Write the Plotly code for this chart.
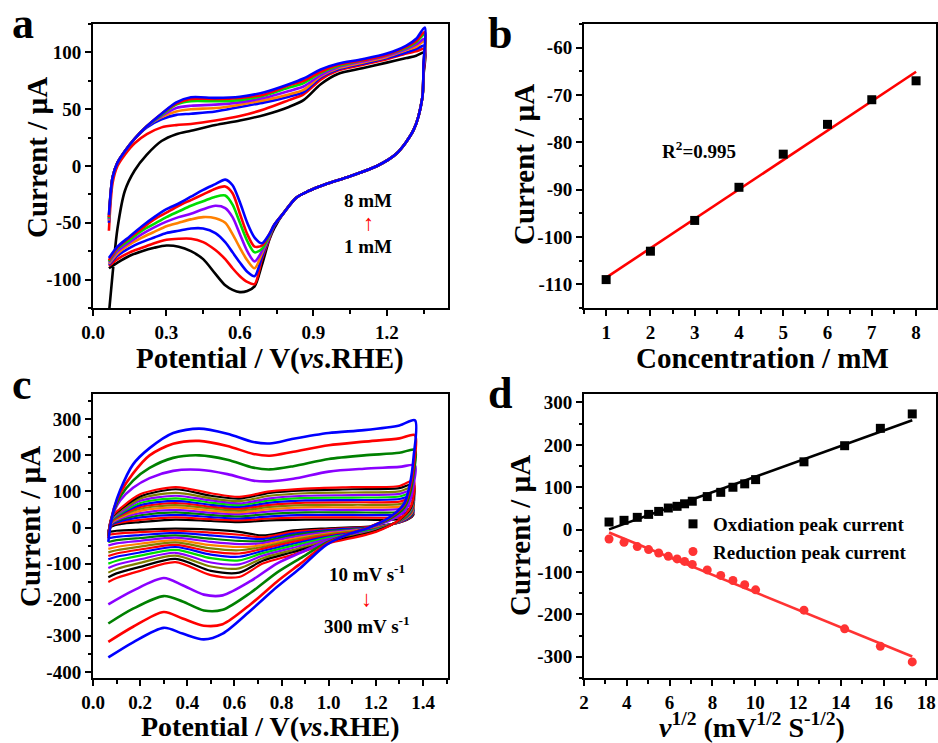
import numpy as np
import plotly.graph_objects as go

FONT = "Liberation Serif, Times New Roman, serif"

# ---------------- Panel a : CVs at 1-8 mM ----------------
A_LABELS = ["1 mM", "2 mM", "3 mM", "4 mM", "5 mM", "6 mM", "7 mM", "8 mM"]
A_COLORS = ["#000000", "#ff0000", "#0000ff", "#ff8000", "#8a00ff", "#00dd00", "#ff0000", "#0000ff"]
A_X_AN = [0.065, 0.08, 0.1, 0.13, 0.17, 0.22, 0.28, 0.34, 0.4, 0.5, 0.6, 0.7, 0.8, 0.86, 0.93, 1.0, 1.1, 1.2, 1.28, 1.32, 1.355]
A_X_CA = [1.355, 1.35, 1.345, 1.31, 1.24, 1.16, 1.05, 0.95, 0.88, 0.83, 0.78, 0.74, 0.72, 0.69, 0.66, 0.63, 0.6, 0.57, 0.54, 0.5, 0.45, 0.4, 0.35, 0.3, 0.25, 0.2, 0.15, 0.1, 0.065]
A_Y_AN = [
    [-130, -95, -55, -22, -4, 10, 22, 28, 31, 36, 40, 45, 52, 58, 72, 81, 86, 91, 95, 97, 100],
    [-57, -15, 0, 10, 20, 28, 34, 36, 37, 40, 44, 50, 58, 63, 76, 84, 89, 94, 99, 101, 103],
    [-50, -10, 3, 13, 24, 34, 41, 45, 46, 48, 52, 56, 61, 65, 78, 85, 90, 95, 100, 103, 106],
    [-48, -10, 3, 13, 24, 35, 43, 48, 50, 51, 54, 58, 63, 67, 79, 86, 91, 96, 102, 105, 110],
    [-47, -10, 3, 13, 24, 35, 44, 51, 53, 54, 56, 60, 66, 70, 80, 87, 92, 97, 103, 107, 112],
    [-46, -10, 3, 13, 24, 35, 45, 54, 57, 57, 58, 62, 69, 73, 82, 88, 93, 98, 104, 109, 116],
    [-45, -10, 3, 13, 24, 35, 46, 55, 59, 59, 60, 63, 71, 75, 83, 89, 93, 98, 105, 110, 118],
    [-43, -10, 3, 13, 24, 35, 46, 56, 60.5, 60, 61, 65, 72, 77, 85, 90, 94, 99, 106, 112, 122],
]
A_Y_CA = [
    [100, 80, 60, 32, 11, 0, -9, -16, -22, -28, -41, -55, -65, -87, -106, -110, -111, -109, -105, -95, -82, -75, -71, -70, -72, -75, -79, -85, -90],
    [103, 82, 60, 32, 11, 0, -9, -16, -22, -28, -41, -53, -64, -82, -104, -102, -97, -90, -82, -74, -67, -64, -64, -65, -68, -72, -76, -82, -88],
    [106, 84, 60, 32, 11, 0, -9, -16, -22, -28, -41, -53, -63, -80, -97, -93, -85, -76, -67, -59, -55, -55, -57, -59, -63, -67, -72, -79, -87],
    [110, 86, 60, 32, 11, 0, -9, -16, -22, -28, -41, -52, -62, -77, -90, -83, -72, -60, -50, -46, -45, -47, -50, -53, -58, -63, -69, -77, -86],
    [112, 87, 60, 32, 11, 0, -9, -16, -22, -28, -41, -52, -61, -75, -84, -75, -60, -45, -37, -35, -38, -42, -45, -49, -54, -60, -67, -75, -85],
    [116, 88, 60, 32, 11, 0, -9, -16, -22, -28, -41, -52, -61, -73, -76, -66, -50, -34, -26, -27, -31, -35, -40, -45, -51, -57, -65, -73, -84],
    [118, 89, 60, 32, 11, 0, -9, -16, -22, -28, -41, -52, -60, -70, -71, -60, -42, -24, -18, -20, -25, -30, -35, -41, -47, -55, -63, -72, -83],
    [122, 90, 60, 32, 11, 0, -9, -16, -22, -28, -41, -52, -60, -68, -63, -50, -32, -17, -12, -16, -21, -27, -33, -38, -45, -53, -62, -71, -81],
]
A_XTICKS = [0.0, 0.3, 0.6, 0.9, 1.2]
A_XTEXT = ["0.0", "0.3", "0.6", "0.9", "1.2"]
A_YTICKS = [-100, -50, 0, 50, 100]
A_YTEXT = ["-100", "-50", "0", "50", "100"]

# ---------------- Panel b : calibration ----------------
B_CONC = [1, 2, 3, 4, 5, 6, 7, 8]
B_CURRENT = [-109, -103, -96.5, -89.5, -82.5, -76.2, -71, -67]
B_XTICKS = [1, 2, 3, 4, 5, 6, 7, 8]
B_XTEXT = ["1", "2", "3", "4", "5", "6", "7", "8"]
B_YTICKS = [-110, -100, -90, -80, -70, -60]
B_YTEXT = ["-110", "-100", "-90", "-80", "-70", "-60"]

# ---------------- Panel c : CVs at scan rates ----------------
C_RATES = [10, 15, 20, 25, 30, 35, 40, 45, 50, 60, 70, 80, 90, 100, 150, 200, 250, 300]
C_COLORS = ["#000000", "#ff0000", "#0000ff", "#008000", "#8a00ff", "#ff8000", "#808000", "#ff0000", "#0000ff",
            "#00dd00", "#8a00ff", "#808000", "#000000", "#ff0000", "#8a00ff", "#008000", "#ff0000", "#0000ff"]
C_X_AN_S = [0.065, 0.08, 0.12, 0.2, 0.35, 0.5, 0.62, 0.75, 0.9, 1.1, 1.3, 1.36]
C_X_CA_S = [1.36, 1.35, 1.3, 1.2, 1.0, 0.85, 0.72, 0.62, 0.5, 0.35, 0.2, 0.1, 0.065]
C_Y_AN_S = [
    [-12, 3, 10, 15, 22, 18, 15, 20, 22, 22, 23, 37],
    [-13, 6, 14, 21, 28, 23, 20, 25, 28, 28, 29, 42],
    [-14, 8, 18, 28, 35, 29, 25, 31, 35, 35, 36, 48],
    [-14, 10, 22, 34, 42, 35, 31, 38, 42, 42, 43, 55],
    [-15, 12, 26, 40, 49, 41, 37, 45, 49, 49, 51, 62],
    [-15, 14, 29, 46, 56, 47, 42, 51, 56, 56, 58, 68],
    [-16, 16, 32, 52, 62, 53, 47, 57, 62, 63, 65, 75],
    [-16, 18, 35, 57, 68, 58, 52, 63, 69, 70, 72, 82],
    [-17, 20, 38, 62, 74, 63, 57, 69, 75, 76, 79, 88],
    [-17, 22, 41, 68, 81, 69, 62, 75, 82, 83, 86, 96],
    [-18, 24, 44, 74, 88, 75, 67, 81, 88, 90, 93, 104],
    [-18, 26, 48, 80, 96, 81, 73, 88, 95, 97, 100, 112],
    [-19, 28, 52, 86, 106, 88, 80, 96, 103, 106, 109, 120],
    [-20, 30, 55, 92, 112, 95, 85, 100, 108, 112, 115, 130],
]
C_Y_CA_S = [
    [37, 28, 14, 4, -2, -8, -22, -12, -6, -3, -6, -9, -12],
    [42, 30, 14, 3, -5, -12, -27, -20, -14, -9, -13, -17, -20],
    [48, 32, 15, 2, -7, -17, -32, -28, -22, -15, -21, -26, -30],
    [55, 34, 16, 1, -10, -21, -38, -37, -31, -22, -29, -35, -40],
    [62, 37, 16, 0, -13, -26, -43, -46, -40, -28, -37, -44, -50],
    [68, 39, 17, -1, -16, -31, -49, -54, -49, -35, -45, -54, -59],
    [75, 41, 17, -2, -19, -35, -54, -63, -58, -41, -53, -63, -69],
    [82, 43, 18, -4, -22, -40, -59, -72, -67, -48, -61, -72, -79],
    [88, 46, 18, -5, -25, -45, -65, -81, -75, -54, -69, -81, -88],
    [96, 48, 19, -6, -28, -50, -71, -91, -85, -62, -78, -92, -100],
    [104, 51, 20, -8, -32, -56, -78, -102, -97, -70, -88, -103, -112],
    [112, 54, 20, -9, -36, -62, -85, -113, -108, -78, -98, -115, -125],
    [120, 57, 21, -10, -40, -68, -92, -125, -120, -87, -109, -127, -138],
    [130, 60, 22, -12, -44, -75, -100, -137, -132, -96, -120, -140, -151],
]
C_X_AN_L = [0.065, 0.075, 0.09, 0.115, 0.17, 0.24, 0.34, 0.45, 0.57, 0.68, 0.75, 0.85, 1.0, 1.15, 1.3, 1.366]
C_X_CA_L = [1.366, 1.36, 1.345, 1.32, 1.26, 1.16, 1.09, 0.99, 0.88, 0.78, 0.67, 0.55, 0.47, 0.38, 0.3, 0.17, 0.065]
C_Y_AN_L = [
    [-20, 15, 45, 75, 110, 137, 157, 160, 148, 130, 128, 135, 155, 163, 168, 172],
    [-25, 15, 50, 85, 130, 165, 193, 200, 188, 166, 161, 170, 190, 200, 207, 215],
    [-30, 15, 55, 95, 150, 200, 232, 240, 226, 204, 199, 210, 228, 238, 247, 256],
    [-40, 10, 55, 103, 175, 220, 262, 274, 260, 237, 233, 246, 262, 270, 283, 297],
]
C_Y_CA_L = [
    [172, 120, 75, 45, 20, -3, -17, -38, -70, -100, -148, -188, -186, -160, -140, -175, -213],
    [215, 150, 95, 55, 25, -2, -17, -42, -85, -125, -180, -228, -230, -205, -190, -225, -266],
    [256, 170, 110, 62, 28, -2, -17, -45, -100, -150, -212, -268, -272, -252, -234, -275, -317],
    [297, 195, 122, 66, 29, -3, -17, -48, -112, -165, -229, -294, -310, -294, -278, -318, -360],
]
C_XTICKS = [0.0, 0.2, 0.4, 0.6, 0.8, 1.0, 1.2, 1.4]
C_XTEXT = ["0.0", "0.2", "0.4", "0.6", "0.8", "1.0", "1.2", "1.4"]
C_YTICKS = [-400, -300, -200, -100, 0, 100, 200, 300]
C_YTEXT = ["-400", "-300", "-200", "-100", "0", "100", "200", "300"]

# ---------------- Panel d : peak current vs v^1/2 ----------------
D_SQRT_V = [3.17, 3.87, 4.49, 5.02, 5.49, 5.94, 6.35, 6.70, 7.06, 7.76, 8.39, 8.96, 9.51, 10.02, 12.28, 14.18, 15.85, 17.34]
D_OX = [18, 22, 29, 36, 43, 51, 55, 61, 67, 78, 88, 100, 108, 118, 160, 198, 239, 273]
D_RED = [-22, -30, -40, -47, -55, -63, -69, -75, -82, -95, -108, -120, -130, -142, -190, -234, -275, -312]
D_XTICKS = [2, 4, 6, 8, 10, 12, 14, 16, 18]
D_XTEXT = ["2", "4", "6", "8", "10", "12", "14", "16", "18"]
D_YTICKS = [-300, -200, -100, 0, 100, 200, 300]
D_YTEXT = ["-300", "-200", "-100", "0", "100", "200", "300"]

W, H = 938, 743


def px(x):
    return x / W


def py(y):
    return 1 - y / H


fig = go.Figure()

# panel a
for i in range(len(A_LABELS)):
    xs = A_X_AN + A_X_CA[1:]
    ys = A_Y_AN[i] + A_Y_CA[i][1:]
    fig.add_trace(go.Scatter(x=xs, y=ys, mode="lines", xaxis="x", yaxis="y",
                             line=dict(color=A_COLORS[i], width=2.6, shape="spline", smoothing=0.8),
                             showlegend=False, name=A_LABELS[i]))

# panel b
bfit = np.polyfit(B_CONC, B_CURRENT, 1)
bx = [B_CONC[0], B_CONC[-1]]
fig.add_trace(go.Scatter(x=bx, y=list(np.polyval(bfit, bx)), mode="lines", xaxis="x2", yaxis="y2",
                         line=dict(color="#ff0000", width=2.6), showlegend=False))
fig.add_trace(go.Scatter(x=B_CONC, y=B_CURRENT, mode="markers", xaxis="x2", yaxis="y2",
                         marker=dict(symbol="square", size=9, color="black"), showlegend=False))

# panel c
n_small = len(C_Y_AN_S)
for i in range(len(C_RATES)):
    if i < n_small:
        xs = C_X_AN_S + C_X_CA_S[1:]
        ys = C_Y_AN_S[i] + C_Y_CA_S[i][1:]
        w = 2.2
    else:
        j = i - n_small
        xs = C_X_AN_L + C_X_CA_L[1:]
        ys = C_Y_AN_L[j] + C_Y_CA_L[j][1:]
        w = 2.6
    fig.add_trace(go.Scatter(x=xs, y=ys, mode="lines", xaxis="x3", yaxis="y3",
                             line=dict(color=C_COLORS[i], width=w, shape="spline", smoothing=0.8),
                             showlegend=False, name=f"{C_RATES[i]} mV/s"))

# panel d
dx = [D_SQRT_V[0], D_SQRT_V[-1]]
ofit = np.polyfit(D_SQRT_V, D_OX, 1)
rfit = np.polyfit(D_SQRT_V, D_RED, 1)
fig.add_trace(go.Scatter(x=dx, y=list(np.polyval(ofit, dx)), mode="lines", xaxis="x4", yaxis="y4",
                         line=dict(color="black", width=2.6), showlegend=False))
fig.add_trace(go.Scatter(x=dx, y=list(np.polyval(rfit, dx)), mode="lines", xaxis="x4", yaxis="y4",
                         line=dict(color="#ff3333", width=2.6), showlegend=False))
fig.add_trace(go.Scatter(x=D_SQRT_V, y=D_OX, mode="markers", xaxis="x4", yaxis="y4",
                         marker=dict(symbol="square", size=9, color="black"),
                         name="<b>Oxdiation peak current</b>"))
fig.add_trace(go.Scatter(x=D_SQRT_V, y=D_RED, mode="markers", xaxis="x4", yaxis="y4",
                         marker=dict(symbol="circle", size=9, color="#ff3333"),
                         name="<b>Reduction peak current</b>"))


def axis(domain, rng, tickvals, ticktext, minor_dtick, anchor):
    return dict(domain=domain, range=rng, tickmode="array", tickvals=tickvals, ticktext=ticktext,
                showline=True, linecolor="black", linewidth=2, mirror=True,
                ticks="outside", ticklen=6, tickwidth=2, tickcolor="black",
                minor=dict(tickmode="linear", tick0=0, dtick=minor_dtick, ticks="outside",
                           ticklen=3.5, tickwidth=1.5, tickcolor="black", showgrid=False),
                showgrid=False, zeroline=False, anchor=anchor, automargin=False,
                tickfont=dict(family=FONT, size=19, color="black", weight="bold"))


XA_DOM = [px(93), px(448)]
XB_DOM = [px(584), px(936)]
Y_TOP = [py(308), py(24)]
Y_BOT = [py(678), py(394)]

layout = dict(
    width=W, height=H, margin=dict(l=0, r=0, t=0, b=0),
    paper_bgcolor="white", plot_bgcolor="white",
    font=dict(family=FONT, color="black"),
    xaxis=axis(XA_DOM, [0, 1.45], A_XTICKS, A_XTEXT, 0.15, "y"),
    yaxis=axis(Y_TOP, [-125, 125], A_YTICKS, A_YTEXT, 25, "x"),
    xaxis2=axis(XB_DOM, [0.5, 8.45], B_XTICKS, B_XTEXT, 0.5, "y2"),
    yaxis2=axis(Y_TOP, [-115, -55], B_YTICKS, B_YTEXT, 5, "x2"),
    xaxis3=axis(XA_DOM, [0, 1.506], C_XTICKS, C_XTEXT, 0.1, "y3"),
    yaxis3=axis(Y_BOT, [-417, 370], C_YTICKS, C_YTEXT, 50, "x3"),
    xaxis4=axis(XB_DOM, [2, 18.45], D_XTICKS, D_XTEXT, 1, "y4"),
    yaxis4=axis(Y_BOT, [-350, 320], D_YTICKS, D_YTEXT, 50, "x4"),
    legend=dict(x=px(673), y=py(505), xanchor="left", yanchor="top",
                font=dict(family=FONT, size=19, color="black"),
                bgcolor="rgba(0,0,0,0)", tracegroupgap=0),
)
fig.update_layout(**layout)

XTITLE = dict(family=FONT, size=29, color="black")
XTITLE_LOW = dict(family=FONT, size=28, color="black")
YTITLE = dict(family=FONT, size=29, color="black")
notes = [
    ("<b>Potential / V(<i>vs</i>.RHE)</b>", 270, 358, 0, XTITLE),
    ("<b>Current / µA</b>", 37, 158, -90, YTITLE),
    ("<b>Concentration / mM</b>", 762, 358, 0, XTITLE),
    ("<b>Current / µA</b>", 524, 165, -90, YTITLE),
    ("<b>Potential / V(<i>vs</i>.RHE)</b>", 270, 726, 0, XTITLE_LOW),
    ("<b>Current / µA</b>", 30, 527, -90, YTITLE),
    ("<b><i>ν</i><sup>1/2</sup> (mV<sup>1/2</sup> S<sup>-1/2</sup>)</b>", 752, 725, 0, XTITLE_LOW),
    ("<b>Current / µA</b>", 520, 536, -90, YTITLE),
]
for text, x, y, ang, f in notes:
    fig.add_annotation(text=text, x=px(x), y=py(y), xref="paper", yref="paper",
                       xanchor="center", yanchor="middle", textangle=ang, showarrow=False, font=f)

LETTER = dict(family=FONT, size=44, color="black")
for t, x, y in [("a", 23, 24), ("b", 500, 34), ("c", 22, 384), ("d", 500, 393)]:
    fig.add_annotation(text=f"<b>{t}</b>", x=px(x), y=py(y), xref="paper", yref="paper",
                       xanchor="center", yanchor="middle", showarrow=False, font=LETTER)

SMALL = dict(family=FONT, size=19, color="black")
ARROW = dict(family=FONT, size=22, color="#ff0000")
fig.add_annotation(text="<b>8 mM</b>", x=1.124, y=-30.7, xref="x", yref="y", showarrow=False, font=SMALL)
fig.add_annotation(text="↑", x=1.124, y=-50, xref="x", yref="y", showarrow=False, font=ARROW)
fig.add_annotation(text="<b>1 mM</b>", x=1.124, y=-71, xref="x", yref="y", showarrow=False, font=SMALL)
fig.add_annotation(text="<b>R<sup>2</sup>=0.995</b>", x=3.1, y=-81.6, xref="x2", yref="y2", showarrow=False, font=SMALL)
fig.add_annotation(text="<b>10 mV s<sup>-1</sup></b>", x=1.161, y=-127, xref="x3", yref="y3", showarrow=False, font=SMALL)
fig.add_annotation(text="↓", x=1.161, y=-197, xref="x3", yref="y3", showarrow=False, font=ARROW)
fig.add_annotation(text="<b>300 mV s<sup>-1</sup></b>", x=1.161, y=-271, xref="x3", yref="y3", showarrow=False, font=SMALL)

fig.write_html("out.html")
